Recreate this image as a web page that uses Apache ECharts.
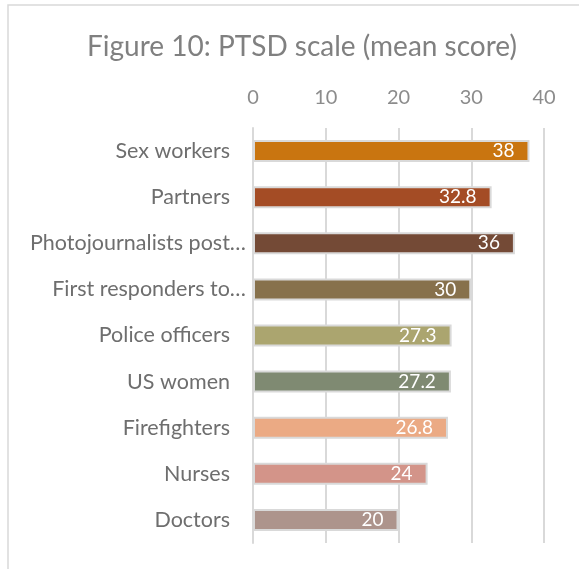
<!DOCTYPE html>
<html><head><meta charset="utf-8">
<script src="https://cdn.jsdelivr.net/npm/echarts@6/dist/echarts.min.js"></script>
<style>html,body{margin:0;padding:0;background:#fff}#c{width:579px;height:569px}</style>
</head><body><div id="c"></div>
<script>
const categories = ["Sex workers","Partners","Photojournalists post…","First responders to…","Police officers","US women","Firefighters","Nurses","Doctors"];
const values = [38, 32.8, 36, 30, 27.3, 27.2, 26.8, 24, 20];
const colors = ["#C97510","#A44C25","#744A36","#87714C","#ABA56F","#7F8A72","#EBAA84","#D39489","#AD948C"];
const ticks = [0, 10, 20, 30, 40];
const FONT = "Lato, 'Open Sans', sans-serif";

const chart = echarts.init(document.getElementById('c'), null, {renderer:'canvas'});
chart.setOption({
  animation:false,
  title:{text:"Figure 10: PTSD scale (mean score)", left:297, top:28, textAlign:'center',
    textStyle:{fontFamily:FONT, fontSize:28, fontWeight:'normal', color:'#808080'}},
  graphic:[{type:'polyline', shape:{points:[[8,569],[8,5],[579,5]]}, style:{stroke:'#d9d9d9', lineWidth:1.5, fill:null}}],
  grid:{left:253, right:35, top:128, bottom:26, containLabel:false},
  xAxis:{type:'value', position:'top', min:ticks[0], max:ticks[ticks.length-1], interval:10,
    axisLine:{show:false}, axisTick:{show:false},
    axisLabel:{fontFamily:FONT, fontSize:20, color:'#8c8c8c', margin:20},
    splitLine:{lineStyle:{color:'#d9d9d9', width:2}}},
  yAxis:{type:'category', inverse:true, data:categories,
    axisLine:{show:true, lineStyle:{color:'#d9d9d9', width:2}}, axisTick:{show:false},
    axisLabel:{fontFamily:FONT, fontSize:21.5, color:'#6e6e6e', margin:7,
      formatter:(v)=> v.endsWith('…') ? '{t|'+v+'}' : '{n|'+v+'}',
      rich:{t:{fontFamily:FONT, fontSize:21.5, color:'#6e6e6e'},
            n:{fontFamily:FONT, fontSize:21.5, color:'#6e6e6e', padding:[0,16,0,0]}}}},
  series:[{type:'bar', barWidth:22,
    data: values.map((v,i)=>({value:v, itemStyle:{color:colors[i]}})),
    itemStyle:{borderColor:'#d9d9d9', borderWidth:2},
    label:{show:true, position:'insideRight', distance:15, color:'#ffffff', fontFamily:FONT, fontSize:19}}]
});
</script></body></html>
